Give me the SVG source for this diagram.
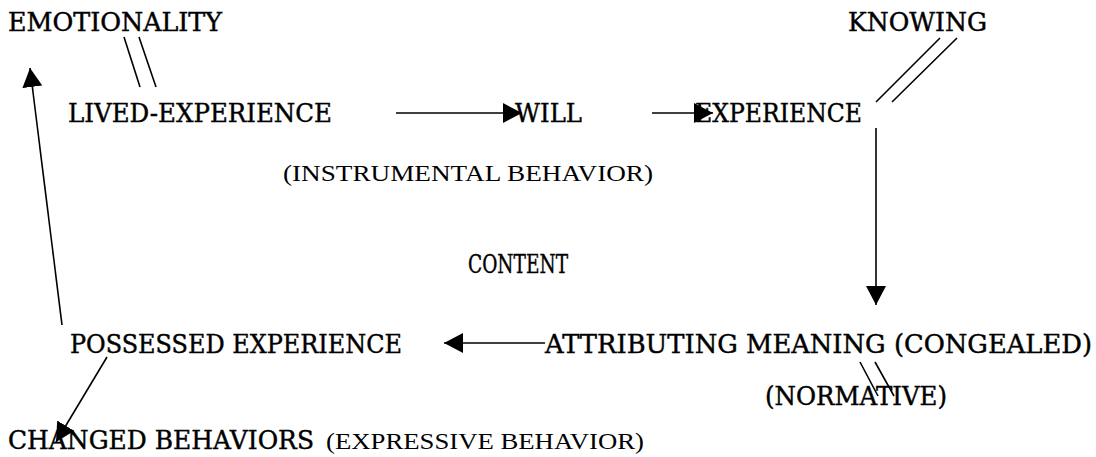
<svg xmlns="http://www.w3.org/2000/svg" width="1096" height="457" viewBox="0 0 1096 457">
<style>
.lbl{font-family:"DejaVu Serif","Liberation Serif",serif;font-size:26px;fill:#000;stroke:#000;stroke-width:0.45}
.sub{font-family:"Liberation Serif","Times New Roman",serif;font-size:24px;fill:#000}
.c{stroke:#000;stroke-width:1.6;fill:none}
</style>
<defs>
<marker id="ah" markerUnits="userSpaceOnUse" markerWidth="22" markerHeight="22" refX="19" refY="10" orient="auto">
<path d="M0,0 L19,10 L0,20 z" fill="#000"/>
</marker>
</defs>
<rect width="1096" height="457" fill="#fff"/>
<g id="connectors">
<path class="c" d="M62,325 L30,68" marker-end="url(#ah)"/>
<path class="c" d="M396,113 L522,113" marker-end="url(#ah)"/>
<path class="c" d="M652,113 L713,113" marker-end="url(#ah)"/>
<path class="c" d="M876,128 L876,305" marker-end="url(#ah)"/>
<path class="c" d="M545,343 L444,343" marker-end="url(#ah)"/>
<path class="c" d="M107,357 L56,442" marker-end="url(#ah)"/>
<path class="c" d="M124,37 L140,87 M139,37 L156,87"/>
<path class="c" d="M940,38 L876,102 M957,38 L892,102"/>
<path class="c" d="M860,362 L878,396 M875,362 L894,396"/>
</g>
<g id="emotionality"><text class="lbl" x="8" y="31" textLength="214" lengthAdjust="spacingAndGlyphs">EMOTIONALITY</text></g>
<g id="lived-experience"><text class="lbl" x="68" y="122" textLength="264" lengthAdjust="spacingAndGlyphs">LIVED-EXPERIENCE</text></g>
<g id="will"><text class="lbl" x="515" y="122" textLength="67" lengthAdjust="spacingAndGlyphs">WILL</text></g>
<g id="experience"><text class="lbl" x="695" y="122" textLength="167" lengthAdjust="spacingAndGlyphs">EXPERIENCE</text></g>
<g id="instrumental"><text class="sub" x="283" y="181" textLength="370" lengthAdjust="spacingAndGlyphs">(INSTRUMENTAL BEHAVIOR)</text></g>
<g id="knowing"><text class="lbl" x="848" y="31" textLength="139" lengthAdjust="spacingAndGlyphs">KNOWING</text></g>
<g id="content"><text class="lbl" x="468" y="273" textLength="100" lengthAdjust="spacingAndGlyphs">CONTENT</text></g>
<g id="attributing"><text class="lbl" x="545" y="353" textLength="547" lengthAdjust="spacingAndGlyphs">ATTRIBUTING MEANING (CONGEALED)</text></g>
<g id="normative"><text class="lbl" x="765" y="405" textLength="182" lengthAdjust="spacingAndGlyphs">(NORMATIVE)</text></g>
<g id="possessed"><text class="lbl" x="70" y="353" textLength="332" lengthAdjust="spacingAndGlyphs">POSSESSED EXPERIENCE</text></g>
<g id="changed"><text class="lbl" x="8" y="449" textLength="306" lengthAdjust="spacingAndGlyphs">CHANGED BEHAVIORS</text><text class="sub" x="326" y="449" textLength="318" lengthAdjust="spacingAndGlyphs">(EXPRESSIVE BEHAVIOR)</text></g>
</svg>
